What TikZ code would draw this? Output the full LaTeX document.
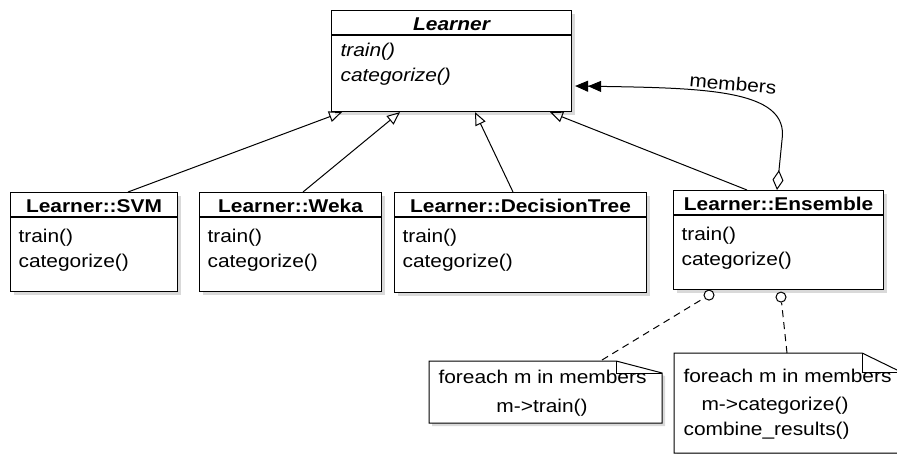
\documentclass[tikz,border=0pt]{standalone}
\usepackage{fontspec}
\usepackage{graphicx}
\setmainfont{Liberation Sans}
\newcommand{\wx}[1]{\scalebox{1.13}[1]{#1}}
\usetikzlibrary{arrows.meta,shadows,calc}
\begin{document}
\begin{tikzpicture}[x=1pt,y=-1pt, line width=1.1pt,
  every node/.style={font=\fontsize{18.5}{22}\selectfont},
  umlbox/.style={draw, fill=white, rectangle, inner sep=0pt, anchor=north west,
    drop shadow={opacity=0.3, shadow xshift=3pt, shadow yshift=-3pt}},
  txt/.style={anchor=base west, inner sep=0pt},
  ttl/.style={anchor=base, inner sep=0pt, font=\fontsize{18.5}{22}\selectfont\bfseries},
  inh/.style={-{Triangle[open, length=13pt, width=11pt]}, line width=1pt},
  lolly/.style={circle, draw, fill=white, minimum size=10pt, inner sep=0pt, line width=1pt},
  notelink/.style={dashed, dash pattern=on 7pt off 5pt, line width=1pt},
  shadowed/.style={drop shadow={opacity=0.3, shadow xshift=3pt, shadow yshift=-3pt}}
]
\useasboundingbox (0,0) rectangle (897,454);

% Learner (abstract)
\node[umlbox, minimum width=240pt, minimum height=101pt] (learner) at (331,10) {};
\draw ($(learner.north west)+(0,25)$) -- ($(learner.north east)+(0,25)$);
\node[ttl, font=\fontsize{18.5}{22}\selectfont\bfseries\itshape] (learnert) at ($(learner.north)+(0,21)$) {\wx{Learner}};
\node[txt, font=\fontsize{18.5}{22}\selectfont\itshape] (learner1) at ($(learner.north west)+(9,47)$) {\wx{train()}};
\node[txt, font=\fontsize{18.5}{22}\selectfont\itshape] (learner2) at ($(learner.north west)+(9,72)$) {\wx{categorize()}};

% SVM
\node[umlbox, minimum width=167pt, minimum height=99pt] (svm) at (10,192) {};
\draw ($(svm.north west)+(0,25)$) -- ($(svm.north east)+(0,25)$);
\node[ttl] (svmt) at ($(svm.north)+(0,21)$) {\wx{Learner::SVM}};
\node[txt] (svm1) at ($(svm.north west)+(8,51)$) {\wx{train()}};
\node[txt] (svm2) at ($(svm.north west)+(8,76)$) {\wx{categorize()}};

% Weka
\node[umlbox, minimum width=182pt, minimum height=99pt] (weka) at (199,192) {};
\draw ($(weka.north west)+(0,25)$) -- ($(weka.north east)+(0,25)$);
\node[ttl] (wekat) at ($(weka.north)+(0,21)$) {\wx{Learner::Weka}};
\node[txt] (weka1) at ($(weka.north west)+(8,51)$) {\wx{train()}};
\node[txt] (weka2) at ($(weka.north west)+(8,76)$) {\wx{categorize()}};

% DecisionTree
\node[umlbox, minimum width=252pt, minimum height=100pt] (dt) at (394,192) {};
\draw ($(dt.north west)+(0,25)$) -- ($(dt.north east)+(0,25)$);
\node[ttl] (dtt) at ($(dt.north)+(0,21)$) {\wx{Learner::DecisionTree}};
\node[txt] (dt1) at ($(dt.north west)+(8,51)$) {\wx{train()}};
\node[txt] (dt2) at ($(dt.north west)+(8,76)$) {\wx{categorize()}};

% Ensemble
\node[umlbox, minimum width=210pt, minimum height=99pt] (ens) at (673,190) {};
\draw ($(ens.north west)+(0,25)$) -- ($(ens.north east)+(0,25)$);
\node[ttl] (enst) at ($(ens.north)+(0,21)$) {\wx{Learner::Ensemble}};
\node[txt] (ens1) at ($(ens.north west)+(8,51)$) {\wx{train()}};
\node[txt] (ens2) at ($(ens.north west)+(8,76)$) {\wx{categorize()}};

% generalization arrows
\draw[inh] ($(svm.north west)+(118,0)$) -- ($(learner.south west)+(11,0)$);
\draw[inh] ($(weka.north west)+(104,0)$) -- ($(learner.south west)+(69,0)$);
\draw[inh] ($(dt.north west)+(119,0)$) -- ($(learner.south west)+(144,0)$);
\draw[inh] ($(ens.north west)+(74,0)$) -- ($(learner.south west)+(219,0)$);

% members association
\draw[line width=1pt, {Triangle[length=13pt,width=11pt]Triangle[length=13pt,width=11pt]}-{Diamond[open,length=20pt,width=11pt]}]
  ($(learner.north east)+(3,76)$) .. controls (700,88) and (790,88) .. (782,140) -- ($(ens.north west)+(104,0)$);
\node[rotate=-5, inner sep=0pt] (memb) at (733,84) {\wx{members}};

% lollipops
\node[lolly] (c1) at ($(ens.south west)+(36,5)$) {};
\node[lolly] (c2) at ($(ens.south west)+(108,7)$) {};

% note 1
\node[rectangle, inner sep=0pt, minimum width=232pt, minimum height=61pt, anchor=north west] (n1) at (429,361) {};
\path[draw, fill=white, line width=1pt, shadowed] (n1.north west) -- ($(n1.north east)+(-46,0)$) -- ($(n1.north east)+(0,12)$)
  -- (n1.south east) -- (n1.south west) -- cycle;
\draw[line width=1pt] ($(n1.north east)+(-46,0)$) -- ($(n1.north east)+(-46,12)$) -- ($(n1.north east)+(0,12)$);
\node[txt] (n1a) at ($(n1.north west)+(9,22)$) {\wx{foreach m in members}};
\node[anchor=base, inner sep=0pt] (n1b) at ($(n1.north west)+(113,51)$) {\wx{m->train()}};

% note 2
\node[rectangle, inner sep=0pt, minimum width=228pt, minimum height=99pt, anchor=north west] (n2) at (674,353) {};
\path[draw, fill=white, line width=1pt, shadowed] (n2.north west) -- ($(n2.north east)+(-41,0)$) -- ($(n2.north east)+(0,20)$)
  -- (n2.south east) -- (n2.south west) -- cycle;
\draw[line width=1pt] ($(n2.north east)+(-41,0)$) -- ($(n2.north east)+(-41,19)$) -- ($(n2.north east)+(0,19)$);
\node[txt] (n2a) at ($(n2.north west)+(9,29)$) {\wx{foreach m in members}};
\node[txt] (n2b) at ($(n2.north west)+(27,57)$) {\wx{m->categorize()}};
\node[txt] (n2c) at ($(n2.north west)+(9,82)$) {\wx{combine\_results()}};

% note links
\draw[notelink] ($(n1.north west)+(173,-1)$) -- (c1);
\draw[notelink] ($(n2.north west)+(113,0)$) -- (c2);
\end{tikzpicture}
\end{document}
